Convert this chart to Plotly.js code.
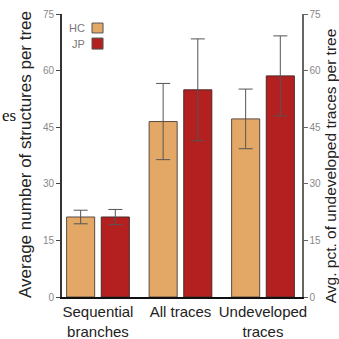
<!DOCTYPE html>
<html>
<head>
<meta charset="utf-8">
<script src="https://cdn.plot.ly/plotly-3.0.1.min.js"></script>
<style>html,body{margin:0;padding:0;background:#fff;}#chart{width:339px;height:339px;}</style>
</head>
<body>
<div id="chart"></div>
<script>
var categories = ["Sequential<br>branches", "All traces", "Undeveloped<br>traces"];
var hcValues = [21.2, 46.5, 47.2];
var hcErrors = [1.8, 10.1, 7.9];
var jpValues = [21.2, 54.9, 58.6];
var jpErrors = [2.0, 13.5, 10.6];
var seriesNames = ["HC", "JP"];
var yTicks = [0, 15, 30, 45, 60, 75];

var hcColor = "#E3A866";
var jpColor = "#B3201F";
var xIdx = categories.map(function(_, i){ return i; });

var barW = 0.34;
var traces = [
  {type: "bar", name: seriesNames[0], x: xIdx, y: hcValues, width: barW, offset: -0.38,
   marker: {color: hcColor, line: {color: "#5a4a40", width: 1}},
   error_y: {type: "data", array: hcErrors, visible: true, color: "#555", thickness: 1, width: 7},
   showlegend: false},
  {type: "bar", name: seriesNames[1], x: xIdx, y: jpValues, width: barW, offset: 0.04,
   marker: {color: jpColor, line: {color: "#4a2a2a", width: 1}},
   error_y: {type: "data", array: jpErrors, visible: true, color: "#555", thickness: 1, width: 7},
   showlegend: false},
  /* carrier trace so the right-hand axis is drawn (invisible) */
  {type: "scatter", mode: "markers", x: xIdx, y: hcValues, yaxis: "y2",
   marker: {opacity: 0, size: 1}, hoverinfo: "skip", showlegend: false}
];

var tickFont = {family: "Liberation Sans, Arial, sans-serif", size: 10, color: "#888"};
var layout = {
  width: 339, height: 339,
  margin: {l: 62, r: 37, t: 14, b: 42},
  paper_bgcolor: "#fff", plot_bgcolor: "#fff",
  barmode: "overlay",
  showlegend: false,
  xaxis: {
    range: [-0.436, 2.473], tickvals: xIdx, ticktext: categories,
    showline: true, linecolor: "#111", linewidth: 2, ticks: "", showgrid: false, zeroline: false,
    tickfont: {family: "Liberation Sans, Arial, sans-serif", size: 15, color: "#222"}
  },
  yaxis: {
    range: [0, 75], tickvals: yTicks, showgrid: false, zeroline: false,
    showline: true, linecolor: "#333", linewidth: 2, ticks: "outside", ticklen: 4, tickcolor: "#444",
    tickfont: tickFont
  },
  yaxis2: {
    range: [0, 75], tickvals: yTicks, overlaying: "y", side: "right", anchor: "x",
    showgrid: false, zeroline: false,
    showline: true, linecolor: "#666", linewidth: 1.5, ticks: "outside", ticklen: 4, tickcolor: "#666",
    tickfont: tickFont
  },
  annotations: [
    {text: "Average number of structures per tree", xref: "paper", yref: "paper", x: -0.15, y: 0.502,
     textangle: -90, showarrow: false, xanchor: "center", yanchor: "middle",
     font: {family: "Liberation Sans, Arial, sans-serif", size: 17, color: "#222"}},
    {text: "Avg. pct. of undeveloped traces per tree", xref: "paper", yref: "paper", x: 1.122, y: 0.463,
     textangle: -90, showarrow: false, xanchor: "center", yanchor: "middle", borderpad: 0,
     font: {family: "Liberation Sans, Arial, sans-serif", size: 15.5, color: "#222"}},
    {text: seriesNames[0], xref: "paper", yref: "paper", x: 0.104, y: 0.951, showarrow: false,
     xanchor: "right", yanchor: "middle", font: {family: "Liberation Sans, Arial, sans-serif", size: 11, color: "#777"}},
    {text: seriesNames[1], xref: "paper", yref: "paper", x: 0.104, y: 0.894, showarrow: false,
     xanchor: "right", yanchor: "middle", font: {family: "Liberation Sans, Arial, sans-serif", size: 11, color: "#777"}},
    {text: "es", xref: "paper", yref: "paper", x: -0.258, y: 0.643, showarrow: false,
     xanchor: "left", yanchor: "middle", font: {family: "Liberation Serif, Times New Roman, serif", size: 17, color: "#111"}}
  ],
  shapes: [
    {type: "rect", xref: "paper", yref: "paper", x0: 0.125, x1: 0.171, y0: 0.933, y1: 0.968,
     fillcolor: hcColor, line: {color: "#555", width: 1}},
    {type: "rect", xref: "paper", yref: "paper", x0: 0.125, x1: 0.171, y0: 0.876, y1: 0.915,
     fillcolor: jpColor, line: {color: "#555", width: 1}}
  ]
};

Plotly.newPlot("chart", traces, layout, {staticPlot: true, displayModeBar: false});
</script>
</body>
</html>
